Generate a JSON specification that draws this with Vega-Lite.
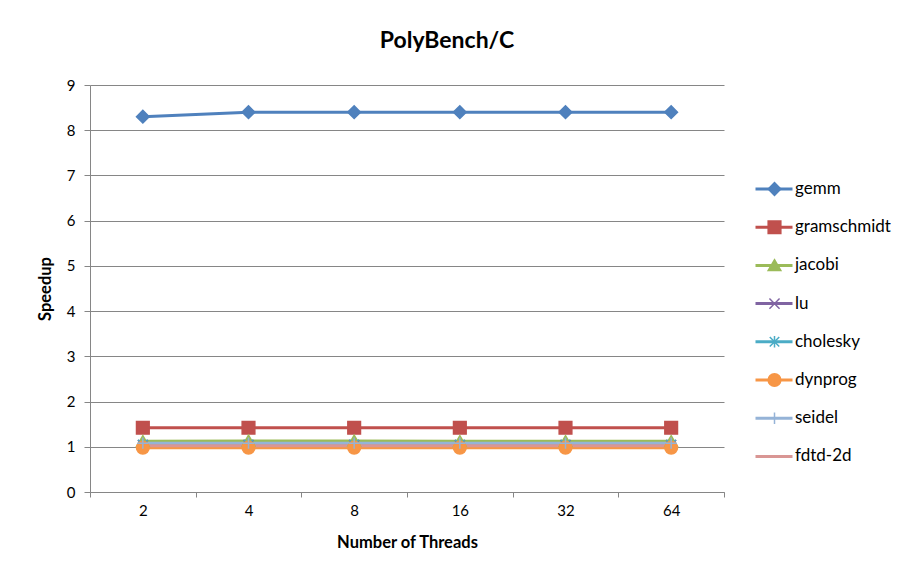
{
  "$schema": "https://vega.github.io/schema/vega-lite/v6.json",
  "autosize": "none",
  "width": 634,
  "height": 407,
  "padding": {"left": 90, "top": 85, "right": 187, "bottom": 85},
  "background": "white",
  "title": {
    "text": "PolyBench/C",
    "font": "Lato",
    "fontSize": 23,
    "fontWeight": "bold",
    "color": "black",
    "anchor": "middle",
    "frame": "group",
    "dx": 40,
    "offset": 25
  },
  "data": {
    "values": [
      {"threads": "2", "series": "gemm", "speedup": 8.3},
      {"threads": "4", "series": "gemm", "speedup": 8.4},
      {"threads": "8", "series": "gemm", "speedup": 8.4},
      {"threads": "16", "series": "gemm", "speedup": 8.4},
      {"threads": "32", "series": "gemm", "speedup": 8.4},
      {"threads": "64", "series": "gemm", "speedup": 8.4},
      {"threads": "2", "series": "gramschmidt", "speedup": 1.42},
      {"threads": "4", "series": "gramschmidt", "speedup": 1.42},
      {"threads": "8", "series": "gramschmidt", "speedup": 1.42},
      {"threads": "16", "series": "gramschmidt", "speedup": 1.42},
      {"threads": "32", "series": "gramschmidt", "speedup": 1.42},
      {"threads": "64", "series": "gramschmidt", "speedup": 1.42},
      {"threads": "2", "series": "jacobi", "speedup": 1.12},
      {"threads": "4", "series": "jacobi", "speedup": 1.13},
      {"threads": "8", "series": "jacobi", "speedup": 1.13},
      {"threads": "16", "series": "jacobi", "speedup": 1.12},
      {"threads": "32", "series": "jacobi", "speedup": 1.12},
      {"threads": "64", "series": "jacobi", "speedup": 1.12},
      {"threads": "2", "series": "lu", "speedup": 1.04},
      {"threads": "4", "series": "lu", "speedup": 1.04},
      {"threads": "8", "series": "lu", "speedup": 1.04},
      {"threads": "16", "series": "lu", "speedup": 1.04},
      {"threads": "32", "series": "lu", "speedup": 1.04},
      {"threads": "64", "series": "lu", "speedup": 1.04},
      {"threads": "2", "series": "cholesky", "speedup": 1.05},
      {"threads": "4", "series": "cholesky", "speedup": 1.05},
      {"threads": "8", "series": "cholesky", "speedup": 1.05},
      {"threads": "16", "series": "cholesky", "speedup": 1.05},
      {"threads": "32", "series": "cholesky", "speedup": 1.05},
      {"threads": "64", "series": "cholesky", "speedup": 1.05},
      {"threads": "2", "series": "dynprog", "speedup": 0.98},
      {"threads": "4", "series": "dynprog", "speedup": 0.98},
      {"threads": "8", "series": "dynprog", "speedup": 0.98},
      {"threads": "16", "series": "dynprog", "speedup": 0.98},
      {"threads": "32", "series": "dynprog", "speedup": 0.98},
      {"threads": "64", "series": "dynprog", "speedup": 0.98},
      {"threads": "2", "series": "seidel", "speedup": 1.08},
      {"threads": "4", "series": "seidel", "speedup": 1.08},
      {"threads": "8", "series": "seidel", "speedup": 1.08},
      {"threads": "16", "series": "seidel", "speedup": 1.08},
      {"threads": "32", "series": "seidel", "speedup": 1.08},
      {"threads": "64", "series": "seidel", "speedup": 1.08},
      {"threads": "2", "series": "fdtd-2d", "speedup": 1.02},
      {"threads": "4", "series": "fdtd-2d", "speedup": 1.02},
      {"threads": "8", "series": "fdtd-2d", "speedup": 1.02},
      {"threads": "16", "series": "fdtd-2d", "speedup": 1.02},
      {"threads": "32", "series": "fdtd-2d", "speedup": 1.02},
      {"threads": "64", "series": "fdtd-2d", "speedup": 1.02}
    ]
  },
  "encoding": {
    "x": {
      "field": "threads",
      "type": "ordinal",
      "sort": ["2", "4", "8", "16", "32", "64"],
      "scale": {"type": "band", "paddingInner": 0, "paddingOuter": 0},
      "axis": {
        "title": "Number of Threads",
        "labelAngle": 0,
        "tickBand": "extent",
        "grid": false,
        "domainColor": "#868686",
        "tickColor": "#868686",
        "tickSize": 5,
        "labelPadding": 6,
        "labelFont": "Lato",
        "labelFontSize": 15,
        "labelColor": "black",
        "titleFont": "Lato",
        "titleFontSize": 16.5,
        "titleFontWeight": "bold",
        "titleColor": "black",
        "titlePadding": 16
      }
    },
    "y": {
      "field": "speedup",
      "type": "quantitative",
      "scale": {"domain": [0, 9], "nice": false, "zero": true},
      "axis": {
        "title": "Speedup",
        "values": [0, 1, 2, 3, 4, 5, 6, 7, 8, 9],
        "grid": true,
        "gridColor": "#868686",
        "gridWidth": 1,
        "domainColor": "#868686",
        "tickColor": "#868686",
        "tickSize": 6,
        "labelPadding": 9,
        "labelFont": "Lato",
        "labelFontSize": 15,
        "labelColor": "black",
        "titleFont": "Lato",
        "titleFontSize": 16.5,
        "titleFontWeight": "bold",
        "titleColor": "black",
        "titlePadding": 13
      }
    }
  },
  "layer": [
    {
      "mark": {"type": "line", "strokeWidth": 3},
      "encoding": {
        "color": {
          "field": "series",
          "type": "nominal",
          "scale": {
            "domain": ["gemm", "gramschmidt", "jacobi", "lu", "cholesky", "dynprog", "seidel", "fdtd-2d"],
            "range": ["#4F81BD", "#C0504D", "#9BBB59", "#8064A2", "#4BACC6", "#F79646", "#95B3D7", "#D99694"]
          },
          "legend": {
            "title": null,
            "orient": "none",
            "legendX": 664,
            "legendY": 94,
            "padding": 0,
            "symbolType": "stroke",
            "symbolSize": 1369,
            "symbolStrokeWidth": 3,
            "clipHeight": 20,
            "rowPadding": 18.2,
            "labelOffset": 1,
            "labelFont": "Lato",
            "labelFontSize": 17,
            "labelColor": "black"
          }
        }
      }
    },
    {
      "mark": {"type": "point", "filled": true, "opacity": 1, "size": 160, "strokeWidth": 1.5},
      "encoding": {
        "color": {
          "field": "series",
          "type": "nominal",
          "legend": {
            "title": null, "orient": "none", "legendX": 676, "legendY": 94, "padding": 0,
            "symbolSize": 160, "symbolStrokeWidth": 1.5, "clipHeight": 20, "rowPadding": 18.2,
            "labelOffset": 1, "labelFont": "Lato", "labelFontSize": 17, "labelExpr": "''"
          }
        },
        "stroke": {
          "field": "series",
          "type": "nominal",
          "scale": {
            "domain": ["gemm", "gramschmidt", "jacobi", "lu", "cholesky", "dynprog", "seidel", "fdtd-2d"],
            "range": ["#4F81BD", "#C0504D", "#9BBB59", "#8064A2", "#4BACC6", "#F79646", "#95B3D7", "#D99694"]
          },
          "legend": {
            "title": null, "orient": "none", "legendX": 676, "legendY": 94, "padding": 0,
            "symbolSize": 160, "symbolStrokeWidth": 1.5, "clipHeight": 20, "rowPadding": 18.2,
            "labelOffset": 1, "labelFont": "Lato", "labelFontSize": 17, "labelExpr": "''"
          }
        },
        "shape": {
          "field": "series",
          "type": "nominal",
          "scale": {
            "domain": ["gemm", "gramschmidt", "jacobi", "lu", "cholesky", "dynprog", "seidel", "fdtd-2d"],
            "range": [
              "diamond",
              "square",
              "M0,-0.9L1,0.8L-1,0.8Z",
              "M-0.8,-0.8L0.8,0.8M-0.8,0.8L0.8,-0.8",
              "M-0.75,-0.75L0.75,0.75M-0.75,0.75L0.75,-0.75M0,-0.9L0,0.9",
              "circle",
              "M-0.9,0L0.9,0M0,-0.9L0,0.9",
              "M-0.01,0L0.01,0"
            ]
          },
          "legend": {
            "title": null, "orient": "none", "legendX": 676, "legendY": 94, "padding": 0,
            "symbolSize": 160, "symbolStrokeWidth": 1.5, "clipHeight": 20, "rowPadding": 18.2,
            "labelOffset": 1, "labelFont": "Lato", "labelFontSize": 17, "labelExpr": "''"
          }
        }
      }
    }
  ],
  "resolve": {"legend": {"color": "independent", "stroke": "independent", "shape": "independent"}},
  "config": {
    "view": {"stroke": null},
    "font": "Lato"
  }
}
